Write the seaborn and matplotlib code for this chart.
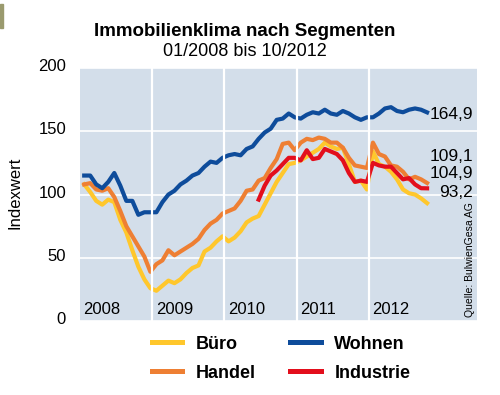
import numpy as np
import pandas as pd
import matplotlib
matplotlib.use('Agg')
import matplotlib.pyplot as plt
import seaborn as sns
from matplotlib.lines import Line2D
from matplotlib.patches import Rectangle
from matplotlib.transforms import ScaledTranslation

# ── Data: monthly index values 01/2008 .. 10/2012 ──────────────────────────
jahre = ['2008', '2009', '2010', '2011', '2012']

buero = [108, 102, 95, 92, 96, 94, 80, 70, 56, 43, 33, 26,
         24, 28, 32, 30, 33, 38, 42, 44, 55, 58, 63, 67,
         63, 66, 71, 78, 81, 83, 92, 101, 110, 117, 124, 125,
         127, 130, 133, 136, 141, 138, 136, 137, 124, 110, 111, 104,
         134, 124, 122, 118, 112, 104, 101, 100, 97, 93.2]

handel = [108, 109, 104, 103, 105, 98, 87, 75, 67, 59, 51, 39,
          45, 48, 56, 52, 55, 58, 61, 65, 72, 77, 80, 85,
          87, 89, 95, 103, 104, 111, 113, 121, 128, 140, 141, 135,
          141, 144, 143, 145, 144, 141, 141, 137, 129, 123, 122, 121,
          141, 132, 130, 123, 122, 118, 112, 114, 112, 109.1]

# Industrie is only reported from 06/2010 on
industrie = [None] * 29 + [
    96, 107, 115, 119, 124, 129, 129,
    127, 135, 128, 129, 136, 134, 132, 127, 117, 110, 111, 110,
    125, 123, 122, 122, 117, 112, 113, 108, 105, 104.9]

wohnen = [115, 115, 108, 105, 110, 117, 107, 95, 95, 84, 86, 86,
          86, 94, 100, 103, 108, 111, 115, 117, 122, 126, 125, 129,
          131, 132, 131, 136, 138, 144, 149, 152, 159, 160, 164, 161,
          160, 163, 165, 164, 167, 164, 163, 166, 164, 161, 159, 161,
          161, 164, 168, 169, 166, 165, 167, 168, 167, 164.9]

segmente = ['Büro', 'Handel', 'Industrie', 'Wohnen']
farben = {'Büro': '#FFC72C', 'Handel': '#EE7F33',
          'Industrie': '#E30E1C', 'Wohnen': '#0E4C9B'}
# vertical placement of the end-value labels (data units)
label_y = {'Büro': 102, 'Handel': 130, 'Industrie': 117, 'Wohnen': 163}

df = pd.DataFrame({'Büro': buero, 'Handel': handel,
                   'Industrie': industrie, 'Wohnen': wohnen}, dtype=float)
df['monat'] = np.arange(len(df)) + 0.7
long = df.melt(id_vars='monat', var_name='segment', value_name='wert').dropna()

# ── Plot ──────────────────────────────────────────────────────────────────
plt.rcParams['font.family'] = ['Liberation Sans', 'DejaVu Sans']

fig = plt.figure(figsize=(5, 3.95), dpi=100)
ax = fig.add_axes([0.16, 0.187, 0.794, 0.641])
ax.set_facecolor('#D3DEEA')

sns.lineplot(data=long, x='monat', y='wert', hue='segment',
             hue_order=segmente, palette=farben, lw=3,
             legend=False, ax=ax, zorder=3)

ax.set_xlim(0, 66)
ax.set_ylim(0, 200)
ax.set_xticks([])
ax.set_yticks([0, 50, 100, 150, 200])
ax.tick_params(axis='y', length=0, pad=10, labelsize=12)
for lbl in ax.get_yticklabels():
    lbl.set_transform(lbl.get_transform() +
                      ScaledTranslation(0, 0.03, fig.dpi_scale_trans))
ax.set_xlabel('')
ax.set_ylabel('')
for s in ax.spines.values():
    s.set_visible(False)
ax.grid(axis='y', color='white', lw=1.2)
ax.set_axisbelow(True)
for i in range(1, len(jahre)):
    ax.axvline(12 * i, color='white', lw=1.6, zorder=5)

for i, j in enumerate(jahre):
    ax.text(12 * i + 0.6, 9, j, fontsize=12, va='center', zorder=6)

for seg in segmente:
    last = df[seg].dropna().iloc[-1]
    ax.text(65.3, label_y[seg], f'{last:.1f}'.replace('.', ','),
            ha='right', va='center', fontsize=12.5, zorder=6)

ax.text(64.8, 3, 'Quelle: BulwienGesa AG', rotation=90,
        ha='center', va='bottom', fontsize=7.5, zorder=6)

fig.text(0.49, 1 - 32 / 395, 'Immobilienklima nach Segmenten',
         ha='center', va='center', fontsize=13.5, fontweight='bold')
fig.text(0.49, 1 - 52 / 395, '01/2008 bis 10/2012',
         ha='center', va='center', fontsize=13)
fig.text(15 / 500, 1 - 193 / 395, 'Indexwert', rotation=90,
         ha='center', va='center', fontsize=12)
fig.patches.append(Rectangle((0, 1 - 28 / 395), 2.5 / 500, 24 / 395,
                             transform=fig.transFigure, color='#9A9A6E'))

order = ['Büro', 'Handel', 'Wohnen', 'Industrie']
handles = [Line2D([], [], color=farben[s], lw=3.6) for s in order]
fig.legend(handles, order, ncol=2, loc='center',
           bbox_to_anchor=(0.562, 0.092), frameon=False,
           prop={'weight': 'bold', 'size': 13},
           handlelength=1.7, handletextpad=0.75,
           columnspacing=1.9, labelspacing=0.65, borderpad=0)

fig.savefig('out.png', dpi=100, facecolor='white')
